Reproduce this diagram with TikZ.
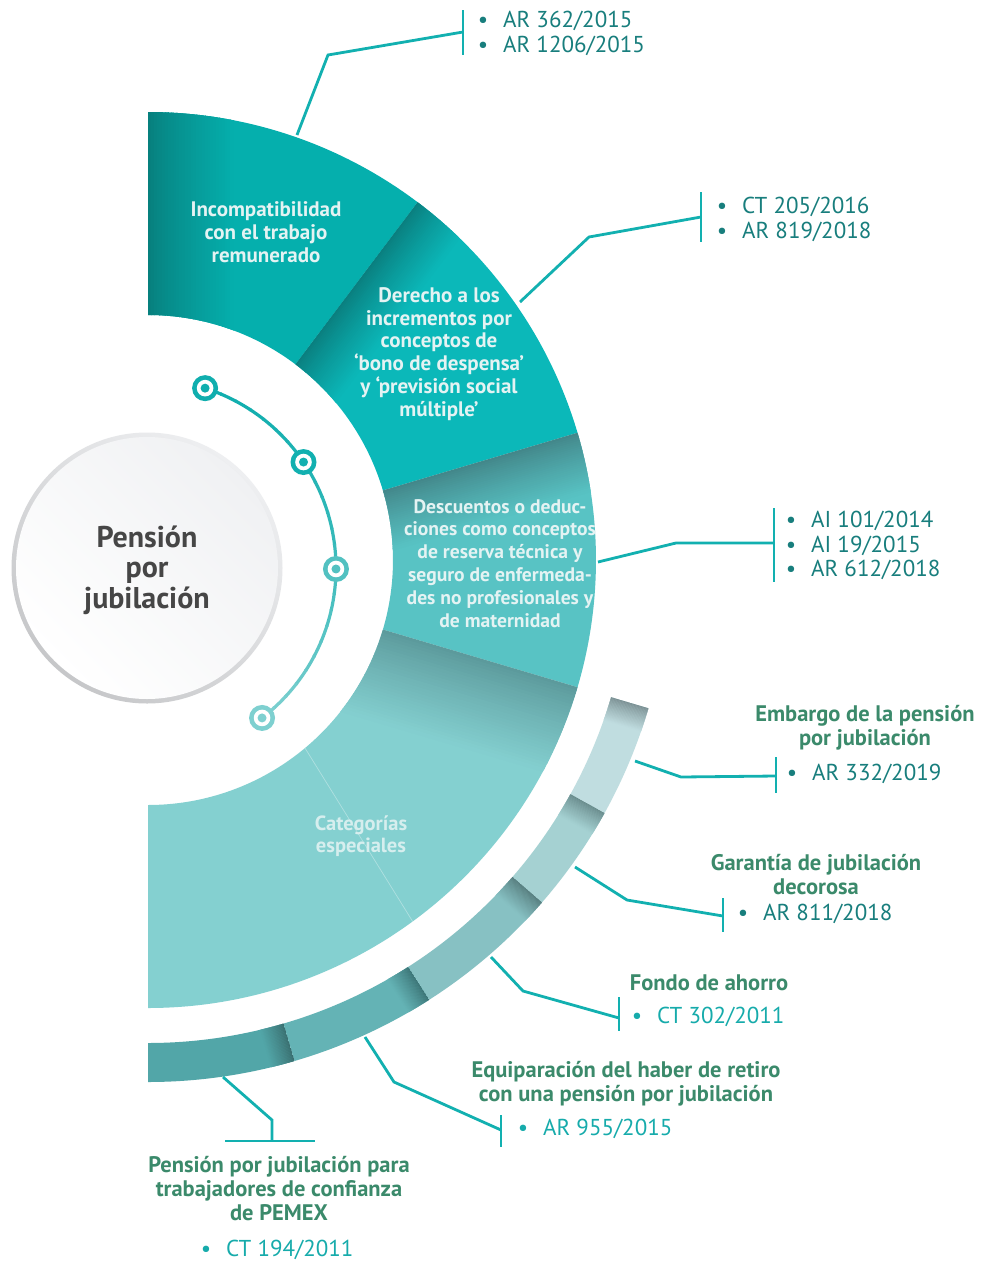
\documentclass[tikz,border=0pt]{standalone}
\usepackage{fontspec}
\setmainfont{PT Sans}
\usetikzlibrary{calc}
\definecolor{sAbase}{HTML}{05AFAD}
\definecolor{sAdark}{HTML}{07807E}
\definecolor{sBbase}{HTML}{0BB8B9}
\definecolor{sBdark}{HTML}{0A7F7F}
\definecolor{sCbase}{HTML}{58C3C4}
\definecolor{sCdark}{HTML}{43878A}
\definecolor{sDbase}{HTML}{84D0D0}
\definecolor{sDdark}{HTML}{5C9A9C}
\definecolor{oAbase}{HTML}{C0DDE0}
\definecolor{oAdark}{HTML}{7C9194}
\definecolor{oBbase}{HTML}{A5D1D2}
\definecolor{oBdark}{HTML}{6A8C8D}
\definecolor{oCbase}{HTML}{87C1C3}
\definecolor{oCdark}{HTML}{587F80}
\definecolor{oDbase}{HTML}{64B3B5}
\definecolor{oDdark}{HTML}{3C7577}
\definecolor{oEbase}{HTML}{52A6A8}
\definecolor{oEdark}{HTML}{3A6F70}
\definecolor{leadc}{HTML}{12B0B0}
\definecolor{refdark}{HTML}{187E7D}
\definecolor{reflight}{HTML}{16ABAB}
\definecolor{headc}{HTML}{3B8A6B}
\definecolor{segtxt}{HTML}{E4F3F3}
\definecolor{cattxt}{HTML}{D6EEEE}
\definecolor{hubtxt}{HTML}{464646}
\definecolor{dotA}{HTML}{10AEAE}
\definecolor{dotB}{HTML}{12B0B0}
\definecolor{dotC}{HTML}{52C1C1}
\definecolor{dotD}{HTML}{7ED0D0}
\definecolor{ringA}{HTML}{EEEFF1}
\definecolor{ringB}{HTML}{C6C7C9}
\definecolor{hubA}{HTML}{F0F1F3}

% annular sector with a dark shadow along its first edge
% #1 a1, #2 a2, #3 r-in, #4 r-out, #5 base, #6 dark, #7 shadow width
\newcommand\gsector[7]{%
  \fill[#5] (#1:#3) arc[start angle=#1,end angle=#2,radius=#3] -- (#2:#4)
     arc[start angle=#2,end angle=#1,radius=#4] -- cycle;
  \begin{scope}
    \clip (#1:#3) arc[start angle=#1,end angle=#2,radius=#3] -- (#2:#4)
       arc[start angle=#2,end angle=#1,radius=#4] -- cycle;
    \foreach \i in {0,...,29}{%
      \pgfmathsetmacro\dA{#7*\i/30}%
      \pgfmathsetmacro\dB{#7*(\i+1.3)/30}%
      \pgfmathtruncatemacro\pc{100*(\i/30)^0.85}%
      \fill[#5!\pc!#6] ($(#1:0)+(#1+90:\dA)$) -- ($(#1:600)+(#1+90:\dA)$)
         -- ($(#1:600)+(#1+90:\dB)$) -- ($(#1:0)+(#1+90:\dB)$) -- cycle;
    }%
  \end{scope}}
\newcommand\bl{\llap{\textbullet\hspace{15pt}}}

\tikzset{
  lead/.style={draw=leadc, line width=2.8pt},
  refd/.style={text=refdark, font=\fontsize{23}{25}\selectfont, anchor=base west, inner sep=0pt},
  refl/.style={refd, text=reflight},
  head/.style={text=headc, font=\bfseries\fontsize{22.5}{24}\selectfont, align=center, anchor=base, inner sep=0pt},
  segt/.style={text=segtxt, font=\bfseries\fontsize{21}{22.7}\selectfont, align=center, anchor=base, inner sep=0pt},
}

\begin{document}
\begin{tikzpicture}[x=1pt,y=-1pt]
\useasboundingbox (0,0) rectangle (982,1261);
\fill[white] (0,0) rectangle (982,1261);

% ---------- main ring ----------
\begin{scope}[shift={(148,560)}]
  \gsector{-90}{-53}{245}{448}{sAbase}{sAdark}{85}
  \gsector{-53}{-16.5}{245}{448}{sBbase}{sBdark}{55}
  \gsector{-16.5}{16.5}{245}{448}{sCbase}{sCdark}{60}
  \gsector{16.5}{90}{245}{448}{sDbase}{sDdark}{90}
  % outer thin ring
  \gsector{16.5}{29}{483}{522}{oAbase}{oAdark}{24}
  \gsector{29}{41}{483}{522}{oBbase}{oBdark}{24}
  \gsector{41}{57.4}{483}{522}{oCbase}{oCdark}{24}
  \gsector{57.4}{73.7}{483}{522}{oDbase}{oDdark}{24}
  \gsector{73.7}{90}{483}{522}{oEbase}{oEdark}{24}
\end{scope}
\draw[white, opacity=0.35, line width=0.7pt] (300,740) -- (413,922);

% ---------- hub ----------
\shade[top color=ringA, bottom color=ringB, shading angle=-40] (147,568) circle[radius=135.5];
\shade[top color=hubA, bottom color=white, shading angle=-45] (147,568) circle[radius=131];
\node[font=\bfseries\fontsize{30}{30.5}\selectfont, text=hubtxt, align=center, anchor=base, inner sep=0pt]
  (hub) at (147,608) {Pensión\\por\\jubilación};

% ---------- dotted arc ----------
\begin{scope}[shift={(147,568)}]
  \foreach \i in {0,...,24}{%
    \pgfmathsetmacro\aA{-72.1+\i*(124.6/25)}%
    \pgfmathsetmacro\aB{-72.1+(\i+1.1)*(124.6/25)}%
    \pgfmathtruncatemacro\pc{100-100*(\i/24)^1.6}%
    \draw[line width=3.2pt, dotA!\pc!dotD] (\aA:189) arc[start angle=\aA, end angle=\aB, radius=189];
  }
  \foreach \ang/\col [count=\k] in {-72.1/dotA, -34.1/dotB, 0.3/dotC, 52.5/dotD}{%
    \node[circle, fill=\col, minimum size=26pt, inner sep=0pt] (dot\k) at (\ang:189) {};
    \fill[white] (\ang:189) circle[radius=8.3];
    \fill[\col] (\ang:189) circle[radius=4.5];
  }
\end{scope}

% ---------- segment texts (anchor = baseline of last line) ----------
\node[segt] (s1) at (266,262) {Incompatibilidad\\con el trabajo\\remunerado};
\node[segt] (s2) at (439,416) {Derecho a los\\incrementos por\\conceptos de\\‘bono de despensa’\\y ‘previsión social\\múltiple’};
\node[segt, font=\bfseries\fontsize{19.6}{22.8}\selectfont] (s3) at (500,627) {Descuentos o deduc-\\ciones como conceptos\\de reserva técnica y\\seguro de enfermeda-\\des no profesionales y\\de maternidad};
\node[segt, text=cattxt, font=\bfseries\fontsize{20.5}{22}\selectfont] (s4) at (361,852) {Categorías\\especiales};

% ---------- callouts ----------
% 1
\coordinate (a1) at (297,135); \coordinate (k1) at (328,55); \coordinate (e1) at (463,32);
\draw[lead] (a1) -- (k1) -- (e1);
\draw[lead] (463,10) -- (463,55);
\node[refd] (r1a) at (503,27) {\bl AR 362/2015};
\node[refd] (r1b) at (503,52) {\bl AR 1206/2015};
% 2
\coordinate (a2) at (520,302); \coordinate (k2) at (589,237); \coordinate (e2) at (701,217);
\draw[lead] (a2) -- (k2) -- (e2);
\draw[lead] (701,192) -- (701,242);
\node[refd] (r2a) at (742,213) {\bl CT 205/2016};
\node[refd] (r2b) at (742,238) {\bl AR 819/2018};
% 3
\coordinate (a3) at (598,562); \coordinate (k3) at (676,543); \coordinate (e3) at (774,543);
\draw[lead] (a3) -- (k3) -- (e3);
\draw[lead] (774,508) -- (774,582);
\node[refd] (r3a) at (811,527) {\bl AI 101/2014};
\node[refd] (r3b) at (811,552) {\bl AI 19/2015};
\node[refd] (r3c) at (811,576) {\bl AR 612/2018};
% 4
\node[head] (h4) at (865,745) {Embargo de la pensión\\por jubilación};
\coordinate (a4) at (635,761); \coordinate (k4) at (681,777); \coordinate (e4) at (776,776);
\draw[lead] (a4) -- (k4) -- (e4);
\draw[lead] (776,757) -- (776,793);
\node[refd] (r4) at (812,780) {\bl AR 332/2019};
% 5
\node[head] (h5) at (816,894) {Garantía de jubilación\\decorosa};
\coordinate (a5) at (575,867); \coordinate (k5) at (627,900); \coordinate (e5) at (723,916);
\draw[lead] (a5) -- (k5) -- (e5);
\draw[lead] (723,898) -- (723,932);
\node[refd] (r5) at (763,920) {\bl AR 811/2018};
% 6
\node[head] (h6) at (709,990) {Fondo de ahorro};
\coordinate (a6) at (491,957); \coordinate (k6) at (523,991); \coordinate (e6) at (619,1018);
\draw[lead] (a6) -- (k6) -- (e6);
\draw[lead] (619,997) -- (619,1031);
\node[refl] (r6) at (657,1023) {\bl CT 302/2011};
% 7
\node[head] (h7) at (626,1101) {Equiparación del haber de retiro\\con una pensión por jubilación};
\coordinate (a7) at (365,1037); \coordinate (k7) at (394,1082); \coordinate (e7) at (501,1130);
\draw[lead] (a7) -- (k7) -- (e7);
\draw[lead] (501,1115) -- (501,1147);
\node[refl] (r7) at (543,1135) {\bl AR 955/2015};
% 8
\coordinate (a8) at (223,1077); \coordinate (k8) at (272,1120); \coordinate (e8) at (272,1141);
\draw[lead] (a8) -- (k8) -- (e8);
\draw[lead] (225,1141) -- (315,1141);
\node[head] (h8) at (279,1220) {Pensión por jubilación para\\trabajadores de confianza\\de PEMEX};
\node[refl] (r8) at (226,1256) {\bl CT 194/2011};
\end{tikzpicture}
\end{document}
